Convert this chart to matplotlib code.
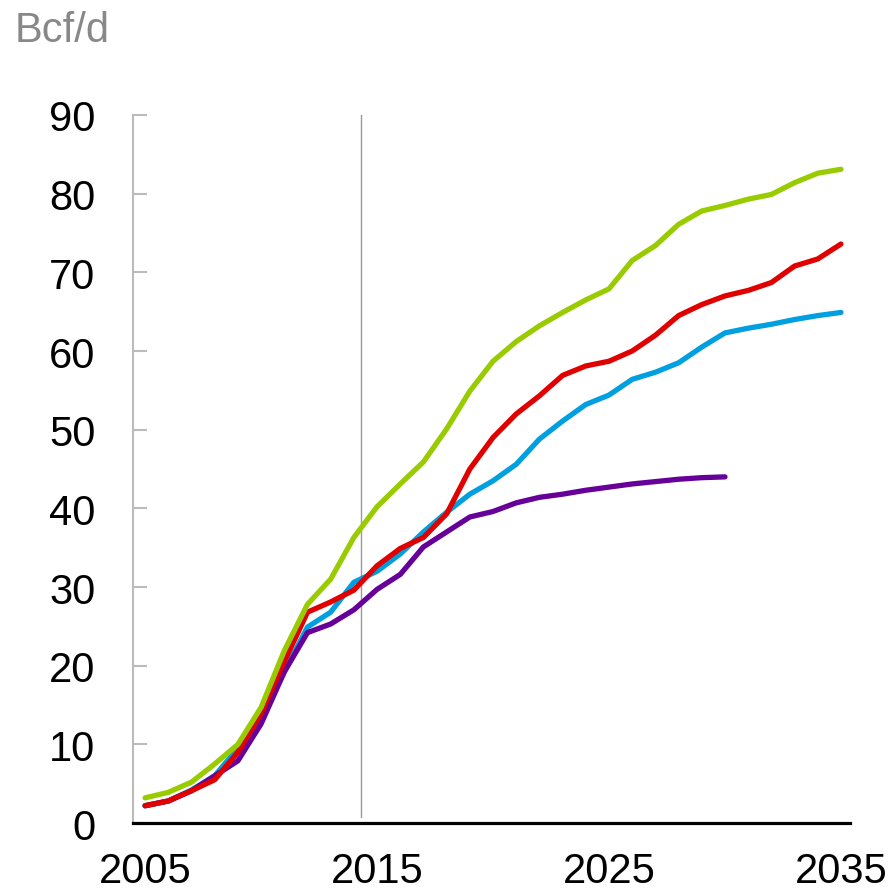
import numpy as np
import matplotlib
matplotlib.use('Agg')
import matplotlib.pyplot as plt

plt.rcParams['font.family'] = ['Liberation Sans', 'DejaVu Sans']

# Years of the projection
years = np.arange(2005, 2036)
purple_years = np.arange(2005, 2031)

# (Bcf/d)
green = [3.2, 3.9, 5.2, 7.5, 10.0, 14.7, 21.9, 27.8, 31.0, 36.3,
         40.2, 43.1, 45.9, 50.1, 54.9, 58.7, 61.2, 63.2, 64.9, 66.5,
         67.9, 71.5, 73.4, 76.1, 77.8, 78.5, 79.3, 79.9, 81.4, 82.6, 83.1]
red = [2.2, 2.8, 4.1, 5.5, 9.0, 13.9, 20.5, 26.8, 28.1, 29.6,
       32.7, 34.9, 36.3, 39.3, 45.0, 49.0, 52.0, 54.3, 56.9, 58.1,
       58.7, 60.0, 62.0, 64.5, 65.9, 67.0, 67.7, 68.7, 70.8, 71.7, 73.6]
blue = [2.2, 2.8, 4.2, 6.0, 9.5, 13.5, 19.2, 24.9, 26.8, 30.6,
        32.0, 34.2, 37.0, 39.5, 41.8, 43.5, 45.6, 48.8, 51.1, 53.2,
        54.4, 56.4, 57.3, 58.5, 60.5, 62.3, 62.9, 63.4, 64.0, 64.5, 64.9]
purple = [2.2, 2.8, 4.1, 6.0, 7.9, 12.6, 19.2, 24.2, 25.3, 27.1,
          29.7, 31.6, 35.1, 37.0, 38.9, 39.6, 40.7, 41.4, 41.8, 42.3,
          42.7, 43.1, 43.4, 43.7, 43.9, 44.0]

xticks = [2005, 2015, 2025, 2035]
yticks = np.arange(0, 100, 10)
history_line = 2014.3

fig = plt.figure(figsize=(8.91, 8.95), dpi=100)
ax = fig.add_axes([0.1493, 0.0793, 0.8047, 0.7911])

lw = 3.8
ax.plot(years, blue, color='#00A0E0', lw=lw, solid_capstyle='round', zorder=3)
ax.plot(purple_years, purple, color='#660099', lw=lw, solid_capstyle='round', zorder=3)
ax.plot(years, red, color='#E00000', lw=lw, solid_capstyle='round', zorder=4)
ax.plot(years, green, color='#99CC00', lw=lw, solid_capstyle='round', zorder=5)

ax.axvline(history_line, ymin=0.008, ymax=1.0, color='#999999', lw=1.0, zorder=2)

ax.set_xlim(2004.48, 2035.39)
ax.set_ylim(0, 90)
ax.set_xticks(xticks)
ax.set_yticks(yticks)

for s in ['top', 'right']:
    ax.spines[s].set_visible(False)
ax.spines['left'].set_color('#bbbbbb')
ax.spines['left'].set_linewidth(1.5)
ax.spines['bottom'].set_color('black')
ax.spines['bottom'].set_linewidth(2.3)

ax.tick_params(axis='y', direction='in', length=10, width=1.5, color='#bbbbbb',
               pad=27, labelsize=30)
ax.tick_params(axis='x', length=0, pad=20, labelsize=30)

fig.text(0.016, 1 - 42 / 895, 'Bcf/d', color='#888888', fontsize=30, va='baseline')

fig.savefig('out.png', dpi=100)
